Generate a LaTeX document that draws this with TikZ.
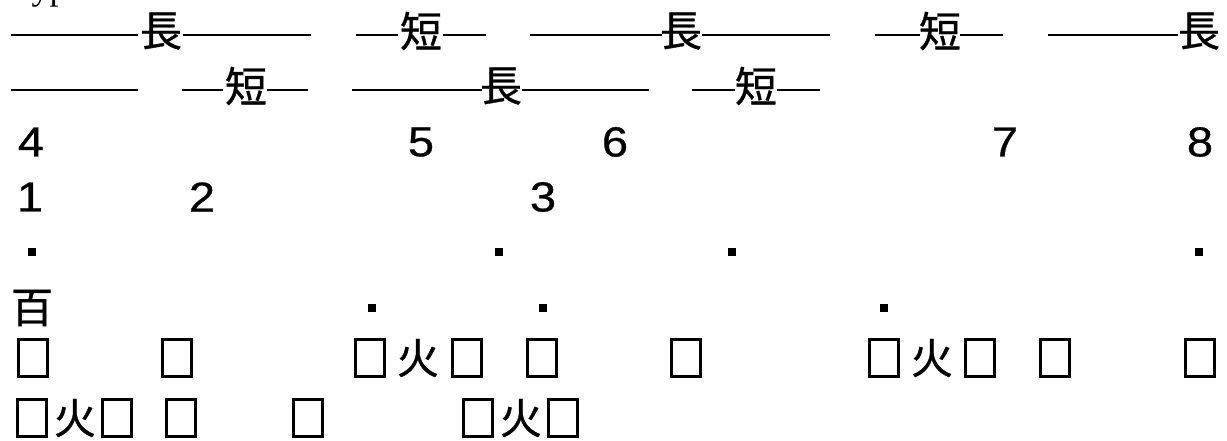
\documentclass[tikz,border=0pt]{standalone}
\usepackage{fontspec}
\newfontfamily\cjkfont[FakeBold=0.8]{Noto Sans CJK JP}
\newfontfamily\digfont[FakeStretch=1.12,FakeBold=0.6]{Liberation Sans}
\newfontfamily\serfont{Liberation Serif}
\tikzset{
  kanji/.style={inner sep=0pt, font=\cjkfont\fontsize{42pt}{42pt}\selectfont, anchor=center},
  digit/.style={inner sep=0pt, font=\digfont\fontsize{42pt}{42pt}\selectfont, anchor=center},
  sqdot/.style={fill=black, inner sep=0pt, minimum size=7.5pt},
  tofu/.style={draw=black, line width=2.8pt, inner sep=0pt, minimum width=29pt, minimum height=37pt},
  rule/.style={line width=1.6pt},
}
\begin{document}
\begin{tikzpicture}[x=1pt,y=-1pt]
\useasboundingbox[fill=white] (0,0) rectangle (1227,440);
% cropped heading
\node[inner sep=0pt, anchor=base west, font=\serfont\fontsize{36pt}{36pt}\selectfont] (head) at (12,-1) {Typ};
% row 1
\node[kanji] (k1) at (161,31) {長};
\node[kanji] (k2) at (421,31) {短};
\node[kanji] (k3) at (681,31) {長};
\node[kanji] (k4) at (940,31) {短};
\node[kanji] (k5) at (1199,31) {長};
\coordinate (a1) at (11,35);  \coordinate (a2) at (138,35);
\coordinate (a3) at (183,35); \coordinate (a4) at (311,35);
\coordinate (a5) at (356,35); \coordinate (a6) at (398,35);
\coordinate (a7) at (443,35); \coordinate (a8) at (486,35);
\coordinate (a9) at (530,35); \coordinate (a10) at (662,35);
\coordinate (a11) at (702,35); \coordinate (a12) at (830,35);
\coordinate (a13) at (875,35); \coordinate (a14) at (920,35);
\coordinate (a15) at (960,35); \coordinate (a16) at (1003,35);
\coordinate (a17) at (1048,35); \coordinate (a18) at (1178,35);
\foreach \s/\e in {a1/a2,a3/a4,a5/a6,a7/a8,a9/a10,a11/a12,a13/a14,a15/a16,a17/a18}
  \draw[rule] (\s) -- (\e);
% row 2
\node[kanji] (m1) at (246,86) {短};
\node[kanji] (m2) at (501,86) {長};
\node[kanji] (m3) at (756,86) {短};
\coordinate (b1) at (11,90);  \coordinate (b2) at (138,90);
\coordinate (b3) at (182,90); \coordinate (b4) at (223,90);
\coordinate (b5) at (267,90); \coordinate (b6) at (308,90);
\coordinate (b7) at (352,90); \coordinate (b8) at (482,90);
\coordinate (b9) at (522,90); \coordinate (b10) at (649,90);
\coordinate (b11) at (692,90); \coordinate (b12) at (735,90);
\coordinate (b13) at (777,90); \coordinate (b14) at (820,90);
\foreach \s/\e in {b1/b2,b3/b4,b5/b6,b7/b8,b9/b10,b11/b12,b13/b14}
  \draw[rule] (\s) -- (\e);
% row 3 digits
\node[digit] (d4) at (31,142) {4};
\node[digit] (d5) at (421,142) {5};
\node[digit] (d6) at (615,142) {6};
\node[digit] (d7) at (1005,142) {7};
\node[digit] (d8) at (1200,142) {8};
% row 4 digits
\node[digit] (d1) at (30,197) {1};
\node[digit] (d2) at (202,197) {2};
\node[digit] (d3) at (543,197) {3};
% row 5 dots
\node[sqdot] (p1) at (32,252) {};
\node[sqdot] (p2) at (499,252) {};
\node[sqdot] (p3) at (732,252) {};
\node[sqdot] (p4) at (1199,252) {};
% row 6
\node[kanji] (hyaku) at (32,308) {百};
\node[sqdot] (q1) at (372,308) {};
\node[sqdot] (q2) at (543,308) {};
\node[sqdot] (q3) at (884,308) {};
% row 7
\node[tofu] (t1) at (33,358) {};
\node[tofu] (t2) at (177,358) {};
\node[tofu] (t3) at (370,358) {};
\node[kanji] (h1) at (418,358) {火};
\node[tofu] (t4) at (467,358) {};
\node[tofu] (t5) at (542,358) {};
\node[tofu] (t6) at (686,358) {};
\node[tofu] (t7) at (884,358) {};
\node[kanji] (h2) at (932,358) {火};
\node[tofu] (t8) at (980,358) {};
\node[tofu] (t9) at (1055,358) {};
\node[tofu] (t10) at (1200,358) {};
% row 8
\node[tofu] (u1) at (32,418) {};
\node[kanji] (h3) at (75,418) {火};
\node[tofu] (u2) at (117,418) {};
\node[tofu] (u3) at (181,418) {};
\node[tofu] (u4) at (308,418) {};
\node[tofu] (u5) at (478,418) {};
\node[kanji] (h4) at (521,418) {火};
\node[tofu] (u6) at (563,418) {};
\end{tikzpicture}
\end{document}
